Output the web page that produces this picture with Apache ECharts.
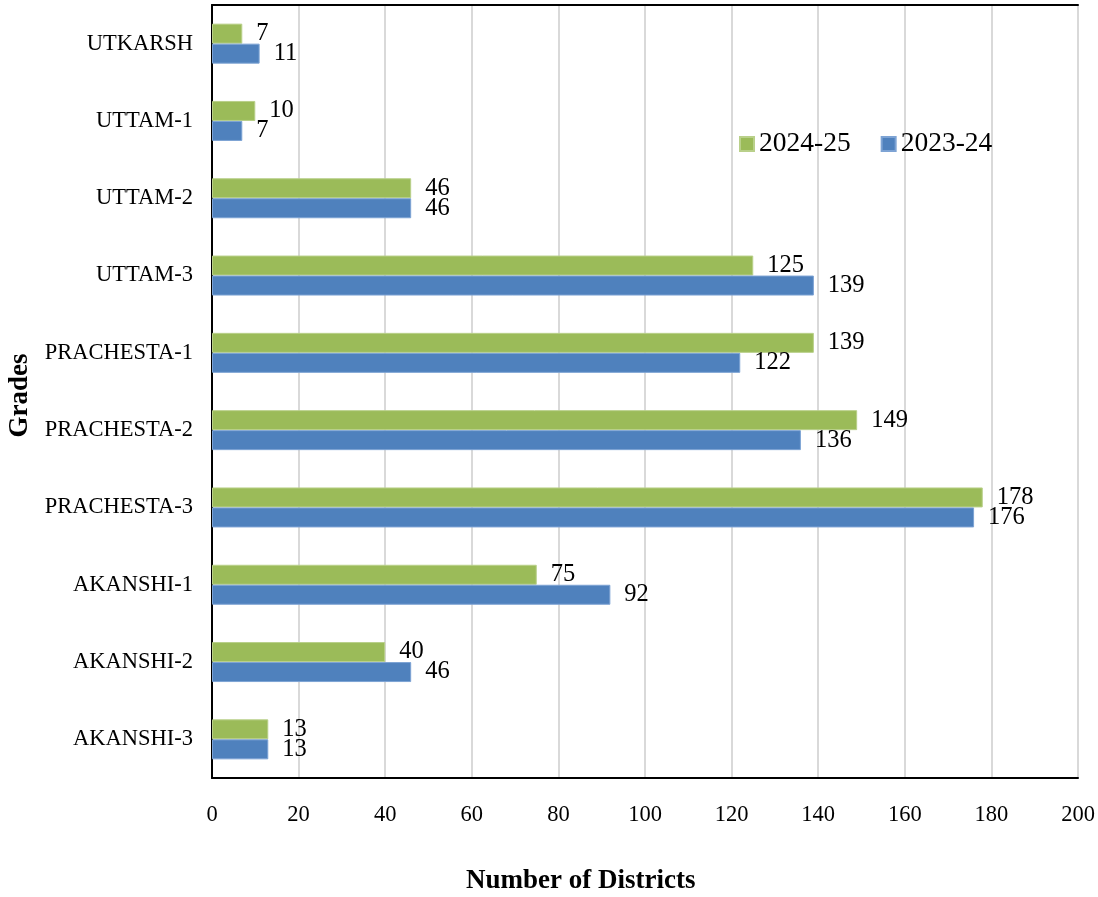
<!DOCTYPE html>
<html>
<head>
<meta charset="utf-8">
<script src="https://cdn.jsdelivr.net/npm/echarts@6/dist/echarts.min.js"></script>
<style>html,body{margin:0;padding:0;background:#fff}#c{width:1098px;height:897px}</style>
</head>
<body>
<div id="c"></div>
<script>
// categories listed bottom to top
var categories = ['AKANSHI-3','AKANSHI-2','AKANSHI-1','PRACHESTA-3','PRACHESTA-2','PRACHESTA-1','UTTAM-3','UTTAM-2','UTTAM-1','UTKARSH'];
var values2024 = [13, 40, 75, 178, 149, 139, 125, 46, 10, 7];
var values2023 = [13, 46, 92, 176, 136, 122, 139, 46, 7, 11];
var xTicks = [0, 20, 40, 60, 80, 100, 120, 140, 160, 180, 200];

var FONT = '"Liberation Serif","Times New Roman",serif';
var chart = echarts.init(document.getElementById('c'));
var labelStyle = {show: true, position: 'right', distance: 14, color: '#000', fontFamily: FONT, fontSize: 24.5};
chart.setOption({
  animation: false,
  textStyle: {fontFamily: FONT},
  title: {
    text: 'Number of Districts', left: 466, top: 868, padding: 0,
    textStyle: {fontFamily: FONT, fontSize: 27, fontWeight: 'bold', color: '#000'}
  },
  grid: {left: 212, right: 20, top: 5, bottom: 119, outerBoundsMode: 'none', containLabel: false},
  legend: {
    left: 739, top: 130, padding: 0, itemWidth: 14, itemHeight: 14, itemGap: 30,
    icon: 'rect',
    data: ['2024-25', '2023-24'],
    textStyle: {fontFamily: FONT, fontSize: 27.5, color: '#000', padding: [0,0,0,0]}
  },
  xAxis: [{
    type: 'value', min: 0, max: 200, interval: 20,
    axisLine: {show: true, lineStyle: {color: '#000', width: 2}},
    axisTick: {show: false},
    axisLabel: {color: '#000', fontFamily: FONT, fontSize: 22.5, margin: 26,
      formatter: function (v) { return xTicks.indexOf(v) >= 0 ? String(v) : ''; }},
    splitLine: {show: true, lineStyle: {color: '#d9d9d9', width: 2}}
  }, {
    type: 'value', min: 0, max: 200, position: 'top',
    axisLine: {show: true, lineStyle: {color: '#000', width: 2}},
    axisTick: {show: false}, axisLabel: {show: false}, splitLine: {show: false}
  }],
  yAxis: [{
    type: 'category', data: categories,
    name: 'Grades', nameLocation: 'middle', nameGap: 176,
    nameTextStyle: {fontFamily: FONT, fontSize: 27, fontWeight: 'bold', color: '#000', padding: [0, 8, 0, 0]},
    axisLine: {show: true, lineStyle: {color: '#d0d0d0', width: 2}},
    axisTick: {show: false},
    axisLabel: {color: '#000', fontFamily: FONT, fontSize: 22.5, margin: 19}
  }, {
    type: 'category', data: categories, position: 'right',
    axisLine: {show: true, lineStyle: {color: '#000', width: 2}},
    axisTick: {show: false}, axisLabel: {show: false}
  }],
  series: [{
    name: '2024-25', type: 'bar', data: values2024,
    barWidth: 20, barGap: '0%',
    itemStyle: {color: '#9BBB59', borderColor: '#b9d08a', borderWidth: 1},
    label: labelStyle
  }, {
    name: '2023-24', type: 'bar', data: values2023,
    barWidth: 20, barGap: '0%',
    itemStyle: {color: '#4F81BD', borderColor: '#7da3d4', borderWidth: 1},
    label: labelStyle
  }]
});
</script>
</body>
</html>
